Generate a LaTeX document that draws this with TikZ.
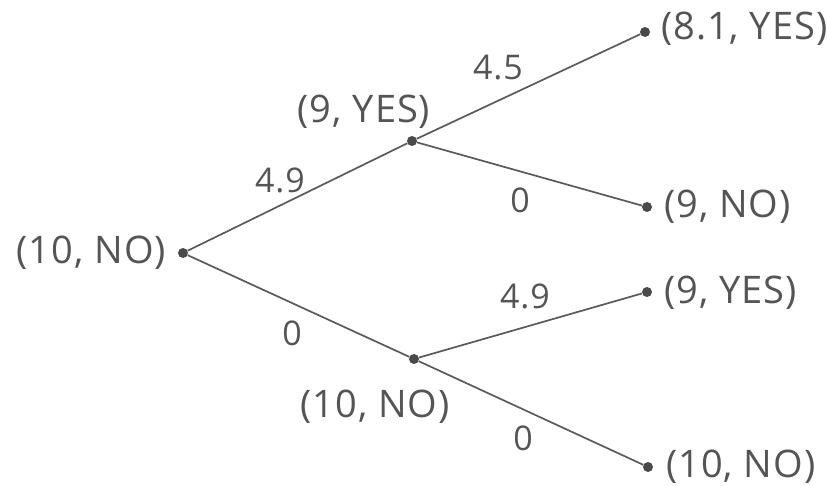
\documentclass[tikz,border=0pt]{standalone}
\usepackage{fontspec}
\setmainfont{Open Sans}[LetterSpace=2.5]
\begin{document}
\begin{tikzpicture}[x=1pt,y=-1pt,
  every node/.style={text=txtgray,font=\fontsize{38}{44}\selectfont,inner sep=0pt},
  dot/.style={circle,fill=dotgray,minimum size=10pt,inner sep=0pt},
  edge/.style={draw=linegray,line width=1.7pt},
  elab/.style={font=\fontsize{34}{40}\selectfont}]
\definecolor{txtgray}{HTML}{555555}
\definecolor{linegray}{HTML}{5A5A5A}
\definecolor{dotgray}{HTML}{4A4A4A}
\useasboundingbox (0,0) rectangle (827,486);
% nodes
\node[dot] (r) at (183,253) {};
\node[dot] (u) at (412,141) {};
\node[dot] (l) at (414,359) {};
\node[dot] (a) at (645,32) {};
\node[dot] (b) at (647,207) {};
\node[dot] (c) at (647,292) {};
\node[dot] (d) at (648,467) {};
% edges
\draw[edge] (r) -- (u);
\draw[edge] (r) -- (l);
\draw[edge] (u) -- (a);
\draw[edge] (u) -- (b);
\draw[edge] (l) -- (c);
\draw[edge] (l) -- (d);
% labels of states
\node[anchor=east] (rt) at (166,253) {(10, NO)};
\node (ut) at (364,112) {(9, YES)};
\node (lt) at (375,407) {(10, NO)};
\node[anchor=west] (at) at (661,29) {(8.1, YES)};
\node[anchor=west] (bt) at (664,207) {(9, NO)};
\node[anchor=west] (ct) at (664,293) {(9, YES)};
\node[anchor=west] (dt) at (666,467) {(10, NO)};
% edge labels
\node[elab] (e1) at (280,180) {4.9};
\node[elab] (e2) at (292,333) {0};
\node[elab] (e3) at (498,68) {4.5};
\node[elab] (e4) at (520,200) {0};
\node[elab] (e5) at (525,296) {4.9};
\node[elab] (e6) at (523,438) {0};
\end{tikzpicture}
\end{document}
